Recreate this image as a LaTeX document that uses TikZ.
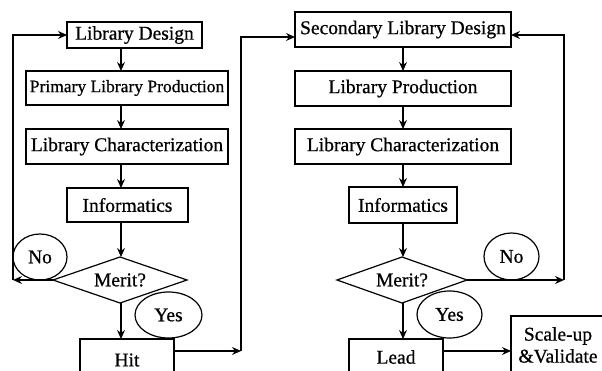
\documentclass[tikz,border=0pt]{standalone}
\usepackage{fontspec}
\setmainfont{Liberation Serif}[FakeBold=0.7]
\usetikzlibrary{arrows.meta,shapes.geometric}
\begin{document}
\begin{tikzpicture}[x=1pt,y=-1pt,
  every node/.style={inner sep=0pt,outer sep=0pt,font=\fontsize{19.5}{22}\selectfont},
  box/.style={draw,line width=1.2pt,rectangle},
  dec/.style={draw,line width=1.2pt,diamond,aspect=2.9},
  tag/.style={draw,line width=1.2pt,ellipse},
  arr/.style={line width=1.3pt,-{Stealth[length=9pt,width=8pt,inset=3pt]}},
  ln/.style={line width=1.3pt}]
\useasboundingbox (0,0) rectangle (602,371);
\clip (0,0) rectangle (602,371);
% left column
\node[box,minimum width=135pt,minimum height=26pt] (ld) at (134.5,35) {Library Design};
\node[box,minimum width=202pt,minimum height=34pt,font=\fontsize{17.5}{20}\selectfont] (ppl) at (127,88) {Primary Library Production};
\node[box,minimum width=202pt,minimum height=35pt] (lc) at (127,146.5) {Library Characterization};
\node[box,minimum width=121pt,minimum height=34pt] (inf) at (127.5,205) {Informatics};
\node[dec,minimum width=134pt,minimum height=46pt] (mer) at (120,280) {Merit?};
\node[tag,minimum width=54pt,minimum height=46pt] (no) at (40,257) {No};
\node[tag,minimum width=67pt,minimum height=46pt] (yes) at (168.5,315) {Yes};
\node[box,minimum width=94pt,minimum height=42pt] (hit) at (127,360) {Hit};
\coordinate (cx) at (121,0);
\coordinate (lno) at (13,280);
\coordinate (hr) at (241,351);
\coordinate (ytop) at (0,37);
\draw[arr] (ld.south -| cx) -- (ppl.north -| cx);
\draw[arr] (ppl.south -| cx) -- (lc.north -| cx);
\draw[arr] (lc.south -| cx) -- (inf.north -| cx);
\draw[arr] (inf.south -| cx) -- (mer.north -| cx);
\draw[arr] (mer.south -| cx) -- (hit.north -| cx);
\draw[arr] (mer.west) -- (lno);
\draw[arr] (lno) |- (ld.west);
\draw[arr] (hit.east |- hr) -- (hr);
% right column
\node[box,minimum width=216pt,minimum height=35pt] (sld) at (403,29.5) {Secondary Library Design};
\node[box,minimum width=216pt,minimum height=35pt] (lp) at (403,88.5) {Library Production};
\node[box,minimum width=216pt,minimum height=35pt] (rlc) at (403,146.5) {Library Characterization};
\node[box,minimum width=108pt,minimum height=36pt] (rinf) at (403,205) {Informatics};
\node[dec,minimum width=130pt,minimum height=46pt] (rmer) at (402,280) {Merit?};
\node[tag,minimum width=55pt,minimum height=47pt] (rno) at (511.5,256.5) {No};
\node[tag,minimum width=65pt,minimum height=47pt] (ryes) at (449.5,314.5) {Yes};
\node[box,minimum width=94pt,minimum height=36pt] (lead) at (396,357) {Lead};
\node[box,minimum width=94pt,minimum height=58pt,align=center] (scl) at (558,345) {Scale-up\\\&Validate};
\coordinate (rx) at (403,0);
\coordinate (rno2) at (564,280);
\coordinate (rtop) at (0,35);
\coordinate (ly) at (0,351);
\draw[arr] (hr) |- (sld.west |- ytop);
\draw[arr] (sld.south -| rx) -- (lp.north -| rx);
\draw[arr] (lp.south -| rx) -- (rlc.north -| rx);
\draw[arr] (rlc.south -| rx) -- (rinf.north -| rx);
\draw[arr] (rinf.south -| rx) -- (rmer.north -| rx);
\draw[arr] (rmer.south -| rx) -- (lead.north -| rx);
\draw[arr] (rmer.east) -- (rno2);
\draw[arr] (rno2) |- (sld.east |- rtop);
\draw[arr] (lead.east |- ly) -- (scl.west |- ly);
\end{tikzpicture}
\end{document}
